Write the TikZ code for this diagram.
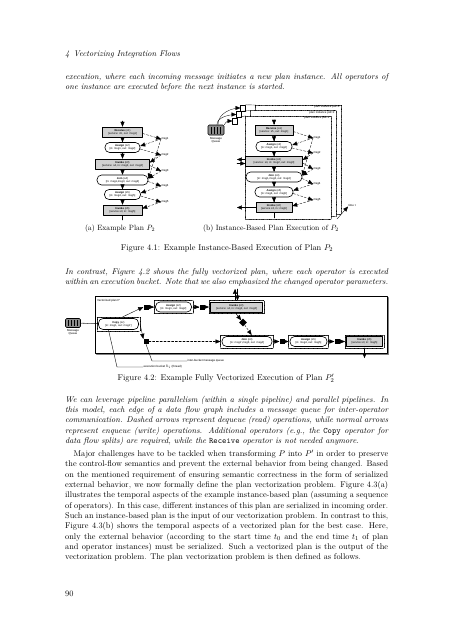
\documentclass[tikz,border=0pt]{standalone}
\usepackage{amsmath,amssymb}
\usepackage{fontspec}
\usetikzlibrary{arrows,fit,shapes.geometric}
\newfontfamily\diagfont{Liberation Sans}
\newcommand\pxu{1.3156pt}
\newcommand\opfont{\diagfont\fontsize{3.6}{4.2}\selectfont}
\newcommand\lblfont{\diagfont\fontsize{3.8}{4.4}\selectfont}
\newcommand\txtfont{\fontsize{10.95}{13.6}\selectfont}
\newcommand\oplbl[3]{\textbf{#1} (#2)\\\relax[#3]}
\definecolor{opgray}{rgb}{0.82,0.82,0.82}
\definecolor{mqgray}{rgb}{0.55,0.55,0.55}

\begin{document}
\begin{tikzpicture}[line cap=round,line join=round,>=triangle 45,
  x=1.3156pt,y=-1.3156pt,
  opbox/.style={draw,fill=opgray,line width=0.8pt,inner sep=0pt,
    minimum height=10*\pxu,align=center,font=\opfont},
  oprnd/.style={draw,fill=white,line width=0.8pt,rounded corners=6pt,
    inner sep=0pt,minimum height=10*\pxu,align=center,font=\opfont},
  msglbl/.style={font=\lblfont,inner sep=0.5pt},
  rd/.style={->,densely dashed,line width=0.45pt},
  wr/.style={->,line width=0.5pt},
  flow/.style={->,line width=0.45pt},
  bucket/.style={draw,densely dotted,line width=0.7pt,inner sep=1.3pt},
  qsq/.style={fill=black,inner sep=0pt,minimum size=5*\pxu},
  frm/.style={draw,densely dotted,line width=0.55pt,fill=white},
  doc/.style={draw,fill=white,line width=0.45pt,inner sep=0pt,
    minimum width=5*\pxu,minimum height=6*\pxu},
  mqueue/.style={draw,fill=mqgray,line width=0.7pt,rounded corners=1.5pt,
    inner sep=0pt,minimum width=16*\pxu,minimum height=10*\pxu},
  txt/.style={inner sep=0pt,font=\txtfont}]
  \path[fill=white] (0,0) rectangle (453,640);
  \node[txt,anchor=base west,font=\txtfont\itshape] (hdr) at (65,56)
    {4\enskip Vectorizing Integration Flows};
  \node[txt,anchor=base west,text width=425pt,align=justify,
    font=\txtfont\itshape] (par1) at (65,79.5)
    {execution, where each incoming message initiates a new plan instance. All operators of\linebreak
    one instance are executed before the next instance is started.};
  \coordinate (a0) at (122.5,121);
  \node[opbox,minimum width=40*\pxu] (a1) at (122.5,132) {\oplbl{Receive}{o1}{service: s5, out: msg1}};
  \node[oprnd,minimum width=35*\pxu] (a2) at (122.5,147.5) {\oplbl{Assign}{o2}{in: msg1, out: msg2}};
  \node[opbox,minimum width=54*\pxu] (a3) at (122.5,164) {\oplbl{Invoke}{o3}{service: s4, in: msg2, out: msg3}};
  \node[oprnd,minimum width=51*\pxu] (a4) at (122.5,180) {\oplbl{Join}{o4}{in: msg1,msg3, out: msg4}};
  \node[oprnd,minimum width=36*\pxu] (a5) at (122.5,194.5) {\oplbl{Assign}{o5}{in: msg4, out: msg5}};
  \node[opbox,minimum width=39*\pxu] (a6) at (122.5,210) {\oplbl{Invoke}{o6}{service s3, in: msg5}};
  \coordinate (a7) at (122.5,220);
  \draw[flow] (a0) -- (a1);
  \foreach \i [count=\j from 2] in {1,...,5} \draw[flow] (a\i) -- (a\j);
  \draw[line width=0.45pt] (a6) -- (a7);
  \foreach \i/\y in {1/139,2/155,3/171,4/186,5/202}
    \node[msglbl,anchor=west] (am\i) at (161,\y) {msg\i};
  \foreach \o in {1,...,5} \draw[rd] ([yshift=-2pt]a\o.east) -- (am\o.west);
  \foreach \m/\o in {1/2,2/3,3/4,1/4,4/5,5/6} \draw[rd] (am\m.west) -- ([yshift=2pt]a\o.east);
  \node[txt,anchor=base,font=\fontsize{10}{12}\selectfont] (capa) at (120,230.5) {(a) Example Plan $P_2$};
  \node[mqueue] (mq) at (216,130) {};
  \foreach \i in {-4.5,-1.5,1.5,4.5} \fill (mq.center) ++(\i-0.9,-3.5) rectangle ++(1.8,7);
  \node[msglbl,align=center,anchor=north] (mqlbl) at (216,136.5) {Message\\Queue};
  \coordinate (f3) at (255,105); \coordinate (f2) at (250,110.5); \coordinate (f1) at (245,116);
  \draw[frm] (f3) rectangle (341,214);
  \node[msglbl,anchor=north east] (p3) at (340,105.3) {plan instance pid=3};
  \draw[frm] (f2) rectangle (336,216.5);
  \node[msglbl,anchor=north east] (p2) at (335,110.8) {plan instance pid=2};
  \draw[frm] (f1) rectangle (331,219);
  \node[msglbl,anchor=north east] (p1) at (330,116.3) {plan instance pid=1};
  \node[doc] (d1) at (243,108) {};
  \node[doc] (d2) at (239,114.5) {};
  \node[doc] (d3) at (235,121) {};
  \draw[densely dotted,line width=0.55pt] (d1.north east) -- (f3);
  \draw[densely dotted,line width=0.55pt] (d2.north east) -- (f2);
  \draw[densely dotted,line width=0.55pt] (d3.north east) -- (f1);
  \draw[->,line width=0.4pt] (mq.70) .. controls +(0,-12) and +(-8,0) .. (d1.west);
  \draw[->,line width=0.4pt] (mq.80) .. controls +(0,-8) and +(-6,0) .. (d2.west);
  \draw[->,line width=0.4pt] (mq.north east) .. controls +(2,-4) and +(-4,0) .. (d3.west);
  \coordinate (b0) at (274,120);
  \node[opbox,minimum width=38*\pxu] (b1) at (274,130) {\oplbl{Receive}{o1}{service: s5, out: msg1}};
  \node[oprnd,minimum width=36*\pxu] (b2) at (274,146.5) {\oplbl{Assign}{o2}{in: msg1, out: msg2}};
  \node[opbox,minimum width=57*\pxu] (b3) at (274,161.5) {\oplbl{Invoke}{o3}{service: s4, in: msg2, out: msg3}};
  \node[oprnd,minimum width=56*\pxu] (b4) at (274,177) {\oplbl{Join}{o4}{in: msg1,msg3, out: msg4}};
  \node[oprnd,minimum width=38*\pxu] (b5) at (274,192) {\oplbl{Assign}{o5}{in: msg4, out: msg5}};
  \node[opbox,minimum width=36*\pxu] (b6) at (274,207.5) {\oplbl{Invoke}{o6}{service s3, in: msg5}};
  \coordinate (b7) at (274,218);
  \draw[flow] (b0) -- (b1);
  \foreach \i [count=\j from 2] in {1,...,5} \draw[flow] (b\i) -- (b\j);
  \draw[line width=0.45pt] (b6) -- (b7);
  \foreach \i/\y in {1/138,2/153,3/169,4/184,5/200}
    \node[msglbl,anchor=west] (bm\i) at (313,\y) {msg\i};
  \foreach \o in {1,...,5} \draw[rd] ([yshift=-2pt]b\o.east) -- (bm\o.west);
  \foreach \m/\o in {1/2,2/3,3/4,1/4,4/5,5/6} \draw[rd] (bm\m.west) -- ([yshift=2pt]b\o.east);
  \coordinate (e3o) at (237,159.5); \coordinate (e3i) at (237,163.5); \coordinate (e6o) at (237,207.5);
  \draw[flow] (b3.west |- e3o) -- (e3o);
  \draw[flow] (e3i) -- (b3.west |- e3i);
  \draw[flow] (b6) -- (e6o);
  \node[msglbl,anchor=west] (tlbl) at (348,205) {time t};
  \coordinate (t0) at (337,219);
  \draw[->,line width=0.45pt] (t0) -- (tlbl.south west);
  \node[txt,anchor=base,font=\fontsize{10}{12}\selectfont] (capb) at (271,230.5)
    {(b) Instance-Based Plan Execution of $P_2$};
  \node[txt,anchor=base] (cap1) at (227,250.5) {Figure 4.1: Example Instance-Based Execution of Plan $P_2$};
  \node[txt,anchor=base west,text width=425pt,align=justify,
    font=\txtfont\itshape] (par2) at (65,274.5)
    {In contrast, Figure 4.2 shows the fully vectorized plan, where each operator is executed\linebreak
    within an execution bucket. Note that we also emphasized the changed operator parameters.};
  \draw[gray,line width=0.9pt] (96.5,354.5) -- (388.5,354.5) -- (388.5,297.5);
  \draw[line width=0.9pt] (95,296) rectangle (387,353);
  \node[msglbl,anchor=west] (vlbl) at (96.5,301) {Vectorized plan P'};
  \node[mqueue,minimum width=15*\pxu,minimum height=9*\pxu] (q2) at (73,323) {};
  \foreach \i in {-4.5,-1.5,1.5,4.5} \fill (q2.center) ++(\i-0.8,-3) rectangle ++(1.6,6);
  \node[msglbl,align=center,anchor=north] (q2lbl) at (73,328.5) {Message\\Queue};
  \node[oprnd,minimum width=40*\pxu,minimum height=11*\pxu] (c0) at (118.5,324) {\oplbl{Copy}{oc}{in: msg1, out: msg1'}};
  \node[oprnd,minimum width=36*\pxu] (c2) at (173.5,307) {\oplbl{Assign}{o2}{in: msg1, out: msg2}};
  \node[opbox,minimum width=52*\pxu] (c3) at (236.5,307) {\oplbl{Invoke}{o3}{service: s4, in: msg2, out: msg3}};
  \node[oprnd,minimum width=50*\pxu] (c4) at (247,341.5) {\oplbl{Join}{o4}{in: msg1',msg3, out: msg4}};
  \node[oprnd,minimum width=37*\pxu] (c5) at (308.5,341.5) {\oplbl{Assign}{o5}{in: msg4, out: msg5}};
  \node[opbox,minimum width=36*\pxu] (c6) at (364.5,341.5) {\oplbl{Invoke}{o6}{service s3, in: msg5}};
  \foreach \n in {0,2,3,4,5,6} \node[bucket,fit=(c\n)] (bc\n) {};
  \node[qsq] (s1) at (146,307) {};
  \node[qsq] (s2) at (202,307) {};
  \node[qsq] (s3) at (146,341.5) {};
  \node[qsq] (s4) at (282,341.5) {};
  \node[qsq] (s5) at (337,341.5) {};
  \node[diamond,fill=black,inner sep=0pt,minimum size=8*\pxu] (dm) at (243,322.5) {};
  \draw[densely dotted,line width=0.7pt] (q2) -- (bc0);
  \draw[wr] (bc0.60) -- (s1.west);
  \draw[wr] (bc0.east) -- (s3.north west);
  \draw[rd] (s1) -- (bc2);
  \draw[wr] (bc2) -- (s2);
  \draw[rd] (s2) -- (bc3);
  \draw[wr] (bc3.265) -- (dm);
  \draw[rd] (dm) -- ([xshift=6pt]bc4.north);
  \draw[rd] (s3) -- (bc4);
  \draw[wr] (bc4) -- (s4);
  \draw[rd] (s4) -- (bc5);
  \draw[wr] (bc5) -- (s5);
  \draw[rd] (s5) -- (bc6);
  \coordinate (x3a) at (235,289); \coordinate (x3b) at (237.5,289); \coordinate (x6) at (364.5,358);
  \draw[flow] (bc3.north -| x3a) -- (x3a);
  \draw[flow] (x3b) -- (bc3.north -| x3b);
  \draw[flow] (bc6.south) -- (x6);
  \node[msglbl,anchor=west] (ibq) at (187,361) {inter-bucket message queue};
  \node[msglbl,anchor=west] (ebt) at (143,367) {execution bucket $b_i$ (thread)};
  \coordinate (k1) at (152,361); \coordinate (k2) at (117,367);
  \draw[line width=0.5pt] (s3.south) -- (k1) -- (ibq.west);
  \draw[line width=0.5pt] (c0.210) -- (k2) -- (ebt.west);
  \node[txt,anchor=base] (cap2) at (226,380.5) {Figure 4.2: Example Fully Vectorized Execution of Plan $P_2'$};
  \node[txt,anchor=base west,text width=425pt,align=justify,
    font=\txtfont\itshape] (par3) at (65,402)
    {We can leverage pipeline parallelism (within a single pipeline) and parallel pipelines. In\linebreak
    this model, each edge of a data flow graph includes a message queue for inter-operator\linebreak
    communication. Dashed arrows represent dequeue (read) operations, while normal arrows\linebreak
    represent enqueue (write) operations. Additional operators (e.g., the \texttt{\upshape Copy} operator for\linebreak
    data flow splits) are required, while the \texttt{\upshape Receive} operator is not needed anymore.};
  \node[txt,anchor=base west,text width=425pt,align=justify] (par4) at (65,456.5)
    {\hspace*{11pt}Major challenges have to be tackled when transforming $P$ into $P'$ in order to preserve\linebreak
    the control-flow semantics and prevent the external behavior from being changed. Based\linebreak
    on the mentioned requirement of ensuring semantic correctness in the form of serialized\linebreak
    external behavior, we now formally define the plan vectorization problem. Figure 4.3(a)\linebreak
    illustrates the temporal aspects of the example instance-based plan (assuming a sequence\linebreak
    of operators). In this case, different instances of this plan are serialized in incoming order.\linebreak
    Such an instance-based plan is the input of our vectorization problem. In contrast to this,\linebreak
    Figure 4.3(b) shows the temporal aspects of a vectorized plan for the best case. Here,\linebreak
    only the external behavior (according to the start time $t_0$ and the end time $t_1$ of plan\linebreak
    and operator instances) must be serialized. Such a vectorized plan is the output of the\linebreak
    vectorization problem. The plan vectorization problem is then defined as follows.};
  \node[txt,anchor=base west] (pgno) at (65,596.5) {90};
\end{tikzpicture}
\end{document}
